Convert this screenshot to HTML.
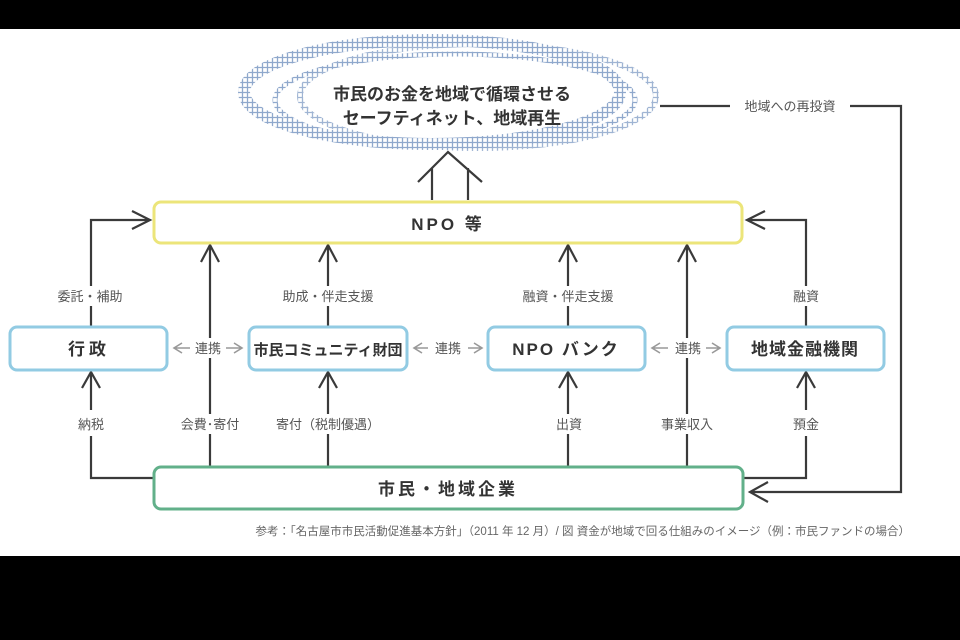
<!DOCTYPE html>
<html><head><meta charset="utf-8"><style>
html,body{margin:0;padding:0;background:#000;}
svg{display:block;}
text{font-family:"Liberation Sans","Noto Sans CJK JP",sans-serif;}
</style></head><body>
<svg width="960" height="640" viewBox="0 0 960 640" xmlns="http://www.w3.org/2000/svg">
<defs>
<pattern id="h" width="5" height="5" patternUnits="userSpaceOnUse">
<rect width="5" height="5" fill="#fff"/>
<path d="M2.5 0V5M0 2.5H5" stroke="#8fa8cc" stroke-width="1.3"/>
</pattern>
</defs>
<rect x="0" y="0" width="960" height="640" fill="#000"/>
<rect x="0" y="29" width="960" height="527" fill="#fff"/>
<g fill="none" stroke="#3a3a3a" stroke-width="2.2" stroke-linejoin="miter" stroke-linecap="butt">
<path d="M432 200V168M468 200V168M418 182L448 152L482 182"/>
<path d="M660 106H730M850 106H901V492H750M768 482L750 492L768 502"/>
<path d="M91 326V220H148M132 211L150 220L132 229"/>
<path d="M91 436V478H154M91 410V372M82 388L91 372L100 388"/>
<path d="M210 466V245M201 262L210 245L219 262"/>
<path d="M328 326V245M319 262L328 245L337 262"/>
<path d="M328 466V372M319 388L328 372L337 388"/>
<path d="M568 326V245M559 262L568 245L577 262"/>
<path d="M568 466V372M559 388L568 372L577 388"/>
<path d="M687 466V245M678 262L687 245L696 262"/>
<path d="M806 326V220H747M765 211L747 220L765 229"/>
<path d="M806 436V478H744M806 410V372M797 388L806 372L815 388"/>
</g>
<g fill="#fff">
<rect x="40" y="286" width="100" height="20"/>
<rect x="268" y="286" width="120" height="20"/>
<rect x="508" y="286" width="120" height="20"/>
<rect x="782" y="286" width="48" height="20"/>
<rect x="70" y="414" width="44" height="20"/>
<rect x="172" y="414" width="76" height="20"/>
<rect x="272" y="414" width="112" height="20"/>
<rect x="548" y="414" width="42" height="20"/>
<rect x="652" y="414" width="70" height="20"/>
<rect x="784" y="414" width="44" height="20"/>
<rect x="190" y="338" width="40" height="20"/>
<rect x="670" y="338" width="36" height="20"/>
</g>
<!-- ellipse rings -->
<ellipse cx="478" cy="96" rx="178" ry="52" fill="#fff" stroke="url(#h)" stroke-width="6" opacity="0.85"/>
<ellipse cx="432" cy="92" rx="188" ry="52" fill="none" stroke="url(#h)" stroke-width="12"/>
<ellipse cx="455" cy="100" rx="180" ry="46" fill="none" stroke="url(#h)" stroke-width="5"/>
<text x="452" y="100" font-size="17" font-weight="bold" fill="#333" text-anchor="middle">市民のお金を地域で循環させる</text>
<text x="452" y="124" font-size="17" font-weight="bold" fill="#333" text-anchor="middle">セーフティネット、地域再生</text>
<rect x="154" y="202" width="588" height="41" rx="7" fill="#fff" stroke="#ece57a" stroke-width="3"/>
<text x="448" y="230" font-size="17" font-weight="bold" fill="#333" text-anchor="middle" letter-spacing="3">NPO 等</text>
<g fill="#fff" stroke="#92cbe3" stroke-width="3">
<rect x="10" y="327" width="157" height="43" rx="7"/>
<rect x="249" y="327" width="158" height="43" rx="7"/>
<rect x="488" y="327" width="157" height="43" rx="7"/>
<rect x="727" y="327" width="157" height="43" rx="7"/>
</g>
<g font-size="17" font-weight="bold" fill="#333" text-anchor="middle">
<text x="89" y="355" letter-spacing="4">行政</text>
<text x="328" y="355" font-size="15">市民コミュニティ財団</text>
<text x="566" y="355" letter-spacing="2">NPO バンク</text>
<text x="805" y="355" letter-spacing="1">地域金融機関</text>
</g>
<rect x="154" y="467" width="589" height="42" rx="7" fill="#fff" stroke="#62b08a" stroke-width="3"/>
<text x="448" y="495" font-size="17" font-weight="bold" fill="#333" text-anchor="middle" letter-spacing="3">市民・地域企業</text>
<g fill="#555" font-size="13" text-anchor="middle">
<text x="208" y="353">連携</text>
<text x="448" y="353">連携</text>
<text x="688" y="353">連携</text>
</g>
<g fill="none" stroke="#999" stroke-width="1.6">
<path d="M174 348H190M182 343L174 348L182 353M226 348H242M234 343L242 348L234 353"/>
<path d="M414 348H428M422 343L414 348L422 353M468 348H482M474 343L482 348L474 353"/>
<path d="M652 348H668M660 343L652 348L660 353M706 348H720M712 343L720 348L712 353"/>
</g>
<g fill="#555" font-size="13" text-anchor="middle">
<text x="90" y="301">委託・補助</text>
<text x="328" y="301">助成・伴走支援</text>
<text x="568" y="301">融資・伴走支援</text>
<text x="806" y="301">融資</text>
<text x="91" y="429">納税</text>
<text x="210" y="429">会費･寄付</text>
<text x="328" y="429">寄付（税制優遇）</text>
<text x="569" y="429">出資</text>
<text x="687" y="429">事業収入</text>
<text x="806" y="429">預金</text>
<text x="790" y="111">地域への再投資</text>
</g>
<text x="910" y="535" font-size="11.5" fill="#666" text-anchor="end">参考：「名古屋市市民活動促進基本方針」（2011 年 12 月）/ 図 資金が地域で回る仕組みのイメージ（例：市民ファンドの場合）</text>
</svg>
</body></html>
